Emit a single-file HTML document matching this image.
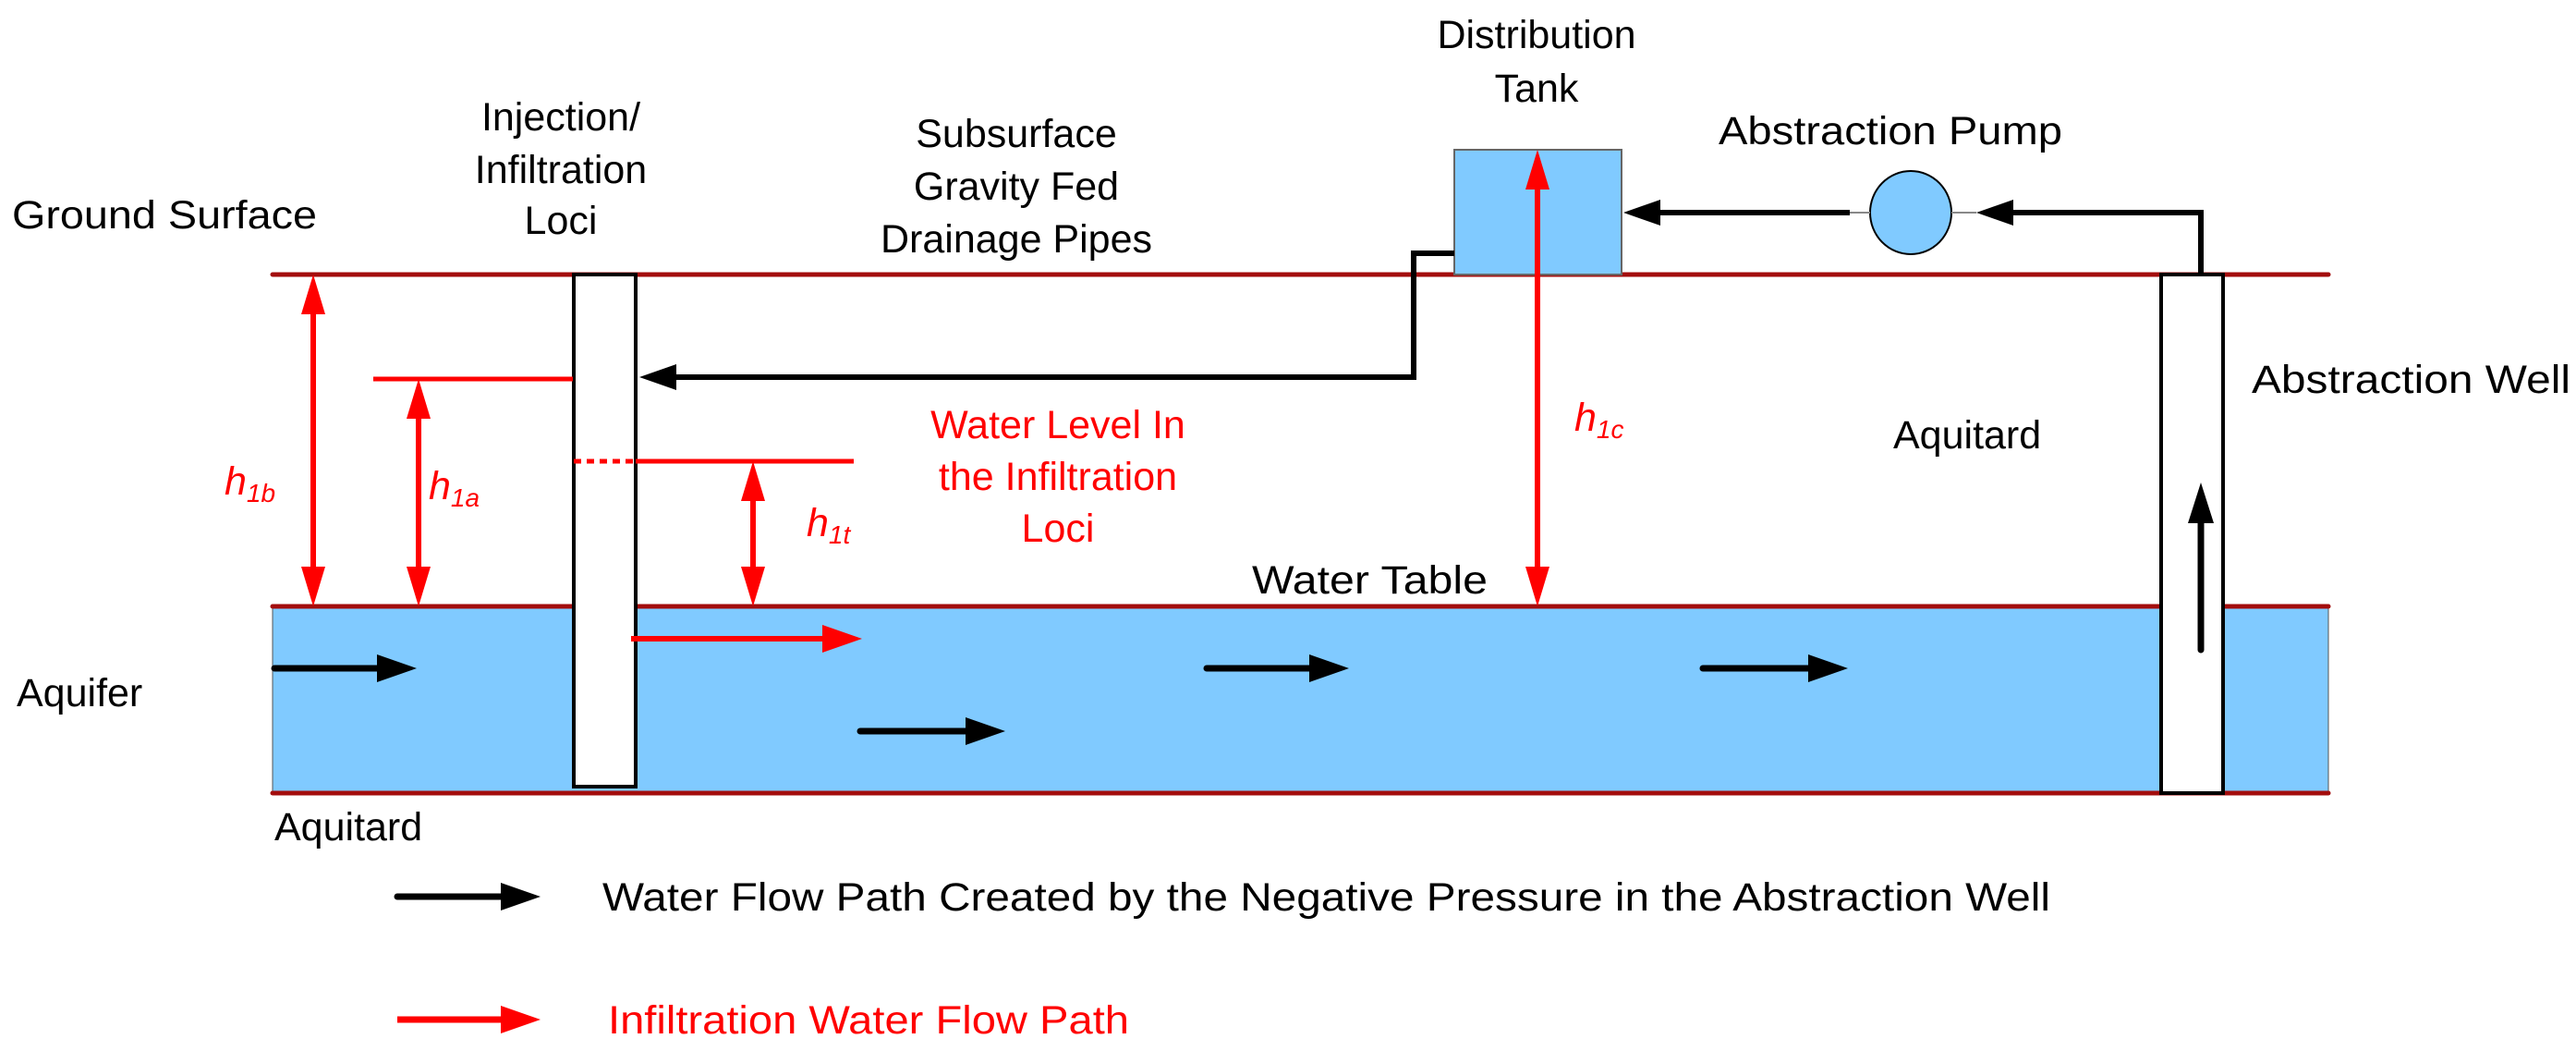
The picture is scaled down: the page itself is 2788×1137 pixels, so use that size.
<!DOCTYPE html>
<html><head><meta charset="utf-8"><style>
html,body{margin:0;padding:0;background:#fff;}
svg{display:block;}
text{font-family:"Liberation Sans",Arial,sans-serif;font-size:43px;}
</style></head><body>
<svg width="2788" height="1137" viewBox="0 0 2788 1137" xmlns="http://www.w3.org/2000/svg">
<!-- aquifer -->
<rect x="295" y="656" width="2225" height="202" fill="#80caff" stroke="#555" stroke-width="1"/>
<!-- layer lines -->
<g stroke="#a30d0d" stroke-width="5" stroke-linecap="round">
<line x1="295" y1="297" x2="2520" y2="297"/>
<line x1="295" y1="656" x2="2520" y2="656"/>
<line x1="295" y1="858" x2="2520" y2="858"/>
</g>
<!-- wells -->
<rect x="621" y="297" width="67" height="554" fill="#fff" stroke="#000" stroke-width="4"/>
<rect x="2339" y="297" width="67" height="561" fill="#fff" stroke="#000" stroke-width="4"/>
<!-- tank -->
<rect x="1574" y="162" width="181" height="135" fill="#80caff" stroke="#666" stroke-width="2"/>
<!-- pump -->
<ellipse cx="2068" cy="230" rx="44" ry="45" fill="#80caff" stroke="#000" stroke-width="2"/>
<line x1="2000" y1="230" x2="2024" y2="230" stroke="#888" stroke-width="2"/>
<line x1="2112" y1="230" x2="2139" y2="230" stroke="#888" stroke-width="2"/>
<!-- pipes -->
<g fill="none" stroke="#000" stroke-width="6">
<polyline points="2382,297 2382,230 2175,230"/>
<line x1="2002" y1="230" x2="1795" y2="230"/>
<polyline points="1574,274 1530,274 1530,408 730,408"/>
</g>
<g fill="#000">
<polygon points="2139,230 2179,216 2179,244"/>
<polygon points="1757,230 1797,216 1797,244"/>
<polygon points="692,408 732,394 732,422"/>
</g>
<!-- black flow arrows -->
<g stroke="#000" stroke-width="7" stroke-linecap="round">
<line x1="297" y1="723" x2="415" y2="723"/>
<line x1="931" y1="791" x2="1050" y2="791"/>
<line x1="1306" y1="723" x2="1424" y2="723"/>
<line x1="1843" y1="723" x2="1962" y2="723"/>
<line x1="2382" y1="703" x2="2382" y2="560"/>
<line x1="430" y1="970" x2="545" y2="970"/>
</g>
<g fill="#000">
<polygon points="451,723 408,708 408,738"/>
<polygon points="1088,791 1045,776 1045,806"/>
<polygon points="1460,723 1417,708 1417,738"/>
<polygon points="2000,723 1957,708 1957,738"/>
<polygon points="2382,522 2368,566 2396,566"/>
<polygon points="585,970 542,955 542,985"/>
</g>
<!-- red elements -->
<g stroke="#ff0000" stroke-width="5">
<line x1="404" y1="410" x2="620" y2="410"/>
<line x1="688" y1="499" x2="924" y2="499"/>
<line x1="621" y1="499" x2="688" y2="499" stroke-dasharray="8,6"/>
<line x1="339" y1="330" x2="339" y2="625" stroke-width="6"/>
<line x1="453" y1="440" x2="453" y2="625" stroke-width="6"/>
<line x1="815" y1="530" x2="815" y2="625" stroke-width="6"/>
<line x1="1664" y1="195" x2="1664" y2="625" stroke-width="6"/>
<line x1="683" y1="691" x2="895" y2="691" stroke-width="6"/>
<line x1="430" y1="1103" x2="545" y2="1103" stroke-width="7"/>
</g>
<g fill="#ff0000">
<polygon points="339,297 326,340 352,340"/><polygon points="339,656 326,613 352,613"/>
<polygon points="453,410 440,453 466,453"/><polygon points="453,656 440,613 466,613"/>
<polygon points="815,499 802,542 828,542"/><polygon points="815,656 802,613 828,613"/>
<polygon points="1664,162 1651,205 1677,205"/><polygon points="1664,656 1651,613 1677,613"/>
<polygon points="933,691 890,676 890,706"/>
<polygon points="585,1103 542,1088 542,1118"/>
</g>
<!-- labels -->
<g fill="#000">
<text x="13" y="247" textLength="330" lengthAdjust="spacingAndGlyphs">Ground Surface</text>
<text x="607" y="141" text-anchor="middle">Injection/</text>
<text x="607" y="198" text-anchor="middle">Infiltration</text>
<text x="607" y="253" text-anchor="middle">Loci</text>
<text x="1100" y="159" text-anchor="middle">Subsurface</text>
<text x="1100" y="216" text-anchor="middle">Gravity Fed</text>
<text x="1100" y="273" text-anchor="middle">Drainage Pipes</text>
<text x="1663" y="52" text-anchor="middle">Distribution</text>
<text x="1663" y="110" text-anchor="middle">Tank</text>
<text x="1860" y="156" textLength="372" lengthAdjust="spacingAndGlyphs">Abstraction Pump</text>
<text x="2437" y="425" textLength="345" lengthAdjust="spacingAndGlyphs">Abstraction Well</text>
<text x="2049" y="485">Aquitard</text>
<text x="1355" y="642" textLength="255" lengthAdjust="spacingAndGlyphs">Water Table</text>
<text x="18" y="764">Aquifer</text>
<text x="297" y="909">Aquitard</text>
<text x="652" y="985" textLength="1567" lengthAdjust="spacingAndGlyphs">Water Flow Path Created by the Negative Pressure in the Abstraction Well</text>
</g>
<g fill="#ff0000">
<text x="1145" y="474" text-anchor="middle">Water Level In</text>
<text x="1145" y="530" text-anchor="middle">the Infiltration</text>
<text x="1145" y="586" text-anchor="middle">Loci</text>
<text x="658" y="1118" textLength="564" lengthAdjust="spacingAndGlyphs">Infiltration Water Flow Path</text>
<g font-style="italic">
<text x="243" y="535">h<tspan font-size="28" dy="8">1b</tspan></text>
<text x="464" y="540">h<tspan font-size="28" dy="8">1a</tspan></text>
<text x="873" y="580">h<tspan font-size="28" dy="8">1t</tspan></text>
<text x="1704" y="466">h<tspan font-size="28" dy="8">1c</tspan></text>
</g>
</g>
</svg>
</body></html>
